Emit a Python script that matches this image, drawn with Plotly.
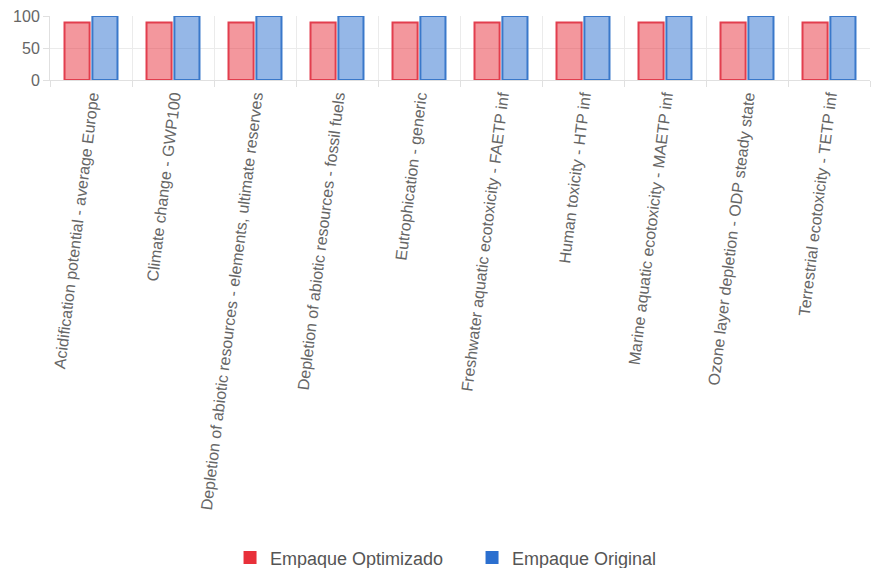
import plotly.graph_objects as go

categories = [
    "Acidification potential - average Europe",
    "Climate change - GWP100",
    "Depletion of abiotic resources - elements, ultimate reserves",
    "Depletion of abiotic resources - fossil fuels",
    "Eutrophication - generic",
    "Freshwater aquatic ecotoxicity - FAETP inf",
    "Human toxicity - HTP inf",
    "Marine aquatic ecotoxicity - MAETP inf",
    "Ozone layer depletion - ODP steady state",
    "Terrestrial ecotoxicity - TETP inf",
]
optimizado = [90, 90, 90, 90, 90, 90, 90, 90, 90, 90]
original = [100, 100, 100, 100, 100, 100, 100, 100, 100, 100]
series_names = ["Empaque Optimizado", "Empaque Original"]
y_ticks = [0, 50, 100]

red_fill = "rgba(232,48,60,0.5)"
red_line = "rgb(226,62,78)"
blue_fill = "rgba(43,111,207,0.5)"
blue_line = "rgb(58,120,202)"
red_solid = "#e8303a"
blue_solid = "#2b6fcf"

fig = go.Figure()
fig.add_trace(go.Bar(x=categories, y=optimizado, name=series_names[0], showlegend=False,
                     marker=dict(color=red_fill, line=dict(color=red_line, width=2))))
fig.add_trace(go.Bar(x=categories, y=original, name=series_names[1], showlegend=False,
                     marker=dict(color=blue_fill, line=dict(color=blue_line, width=2))))
for nm, col in zip(series_names, [red_solid, blue_solid]):
    fig.add_trace(go.Scatter(x=[None], y=[None], mode="markers", name=nm,
                             marker=dict(symbol="square", size=13, color=col)))

fig.update_layout(
    width=873, height=568,
    margin=dict(l=50, r=3, t=16, b=488),
    paper_bgcolor="white", plot_bgcolor="white",
    barmode="group", bargap=0.32, bargroupgap=0.1,
    font=dict(family="Liberation Sans, Arial, sans-serif", color="#666"),
    legend=dict(orientation="h", xref="container", yref="container",
                x=0.2635, y=0.018, xanchor="left", yanchor="middle",
                font=dict(size=18, color="#555"), itemwidth=30,
                entrywidth=197, traceorder="normal"),
)
fig.update_xaxes(type="category", tickangle=-83, tickson="boundaries",
                 showgrid=True, gridcolor="#ebebeb", gridwidth=1,
                 ticks="outside", ticklen=6, tickcolor="#e0e0e0",
                 showline=True, linecolor="#e0e0e0",
                 tickfont=dict(size=16, color="#666"), automargin=False)
fig.update_yaxes(range=[0, 100], tickvals=y_ticks, showgrid=True, gridcolor="#ebebeb",
                 ticks="outside", ticklen=6, tickcolor="#e0e0e0",
                 showline=True, linecolor="#e0e0e0", zeroline=False,
                 tickfont=dict(size=16, color="#666"), automargin=False)

fig.write_html("out.html")
